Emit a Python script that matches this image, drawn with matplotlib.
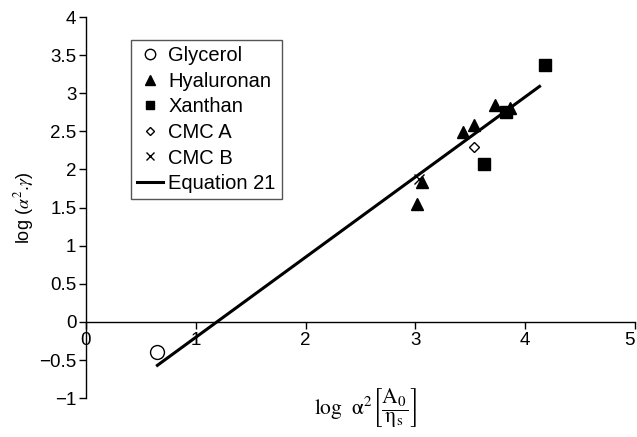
import numpy as np
import matplotlib
matplotlib.use('Agg')
import matplotlib.pyplot as plt

plt.rcParams['font.family'] = ['Liberation Sans', 'DejaVu Sans']
plt.rcParams['mathtext.fontset'] = 'stix'

# measured points, log-log scaled
glycerol_x = [0.65]
glycerol_y = [-0.40]

hyaluronan_x = [3.01, 3.06, 3.43, 3.53, 3.72, 3.86]
hyaluronan_y = [1.55, 1.84, 2.49, 2.59, 2.84, 2.80]

xanthan_x = [3.62, 3.82, 4.18]
xanthan_y = [2.07, 2.76, 3.37]

cmca_x = [3.53]
cmca_y = [2.29]

cmcb_x = [3.03]
cmcb_y = [1.87]

# Equation 21 line end points
eq_x = [0.65, 4.13]
eq_y = [-0.57, 3.09]

fig = plt.figure(figsize=(6.37, 4.37), dpi=100)
ax = fig.add_axes([0.135, 0.089, 0.862, 0.872])

ax.plot(glycerol_x, glycerol_y, 'o', mfc='white', mec='black', ms=10, mew=1.0, label='Glycerol')
ax.plot(hyaluronan_x, hyaluronan_y, '^', color='black', ms=9, label='Hyaluronan')
ax.plot(xanthan_x, xanthan_y, 's', color='black', ms=8.5, label='Xanthan')
ax.plot(cmca_x, cmca_y, 'D', mfc='white', mec='black', ms=5.5, mew=1.0, label='CMC A')
ax.plot(cmcb_x, cmcb_y, 'x', color='black', ms=7, mew=1.0, label='CMC B')
ax.plot(eq_x, eq_y, '-', color='black', lw=2.2, label='Equation 21')

ax.set_xlim(0, 5)
ax.set_ylim(-1, 4)
ax.set_xticks(np.arange(0, 6, 1))
ax.set_yticks(np.arange(-1, 4.5, 0.5))
ax.set_xticklabels([str(v) for v in range(6)])
ax.set_yticklabels(['\u22121', '\u22120.5', '0', '0.5', '1', '1.5', '2', '2.5', '3', '3.5', '4'])

# axis through the origin
ax.spines['top'].set_visible(False)
ax.spines['right'].set_visible(False)
ax.spines['bottom'].set_position(('data', 0))
for sp in ax.spines.values():
    sp.set_linewidth(1.0)
ax.tick_params(direction='out', length=5, width=1.0, labelsize=13.5, pad=2)
ax.get_xticklabels()[-1].set_horizontalalignment('right')

ax.set_ylabel(r'log ($\alpha^2$.$\gamma$)', fontsize=13, labelpad=2)
fig.text(0.573, 0.066,
         r'$\mathrm{log}\ \ \mathrm{α}^2 \left[\dfrac{\mathrm{A}_0}{\mathrm{η}_\mathrm{s}}\right]$',
         ha='center', va='center', fontsize=15.5)

leg = ax.legend(loc='upper left', bbox_to_anchor=(0.082, 0.940), fontsize=14.5,
                markerscale=0.75, handlelength=1.3, handletextpad=0.25,
                labelspacing=0.33, borderpad=0.3, borderaxespad=0,
                fancybox=False, framealpha=1)
leg.get_frame().set_edgecolor('#555555')
leg.get_frame().set_linewidth(1.0)

plt.savefig('out.png', dpi=100)
